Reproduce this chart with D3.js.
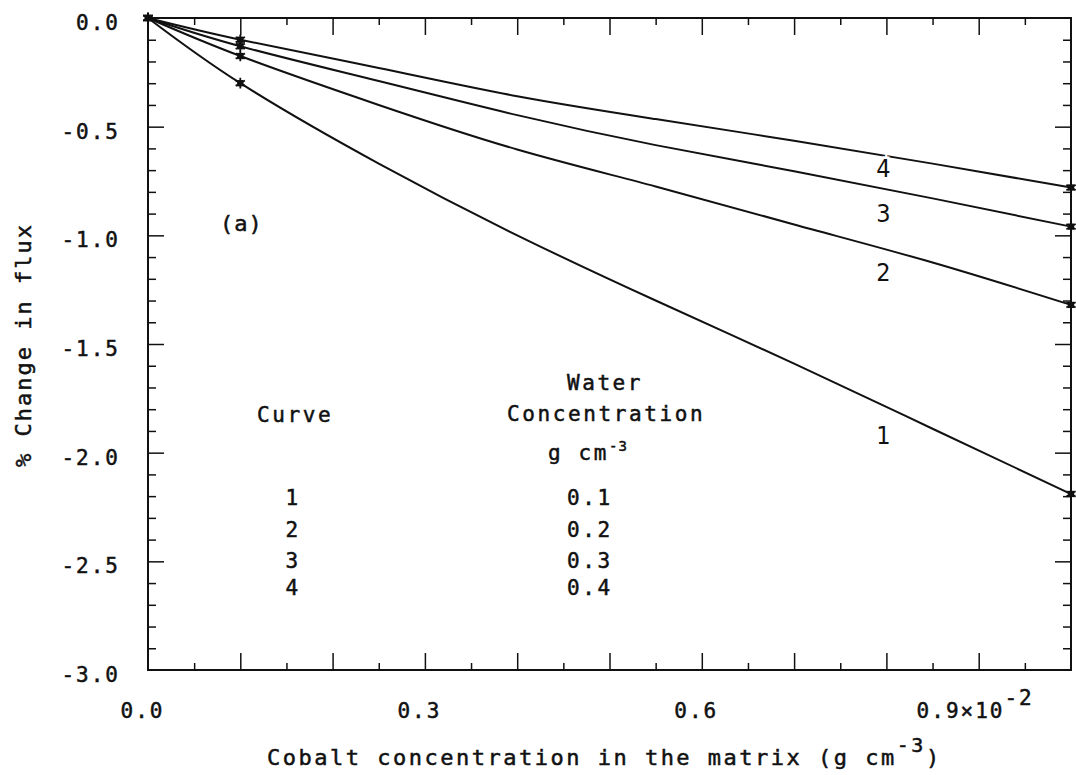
<!DOCTYPE html>
<html>
<head>
<meta charset="utf-8">
<script src="https://cdn.jsdelivr.net/npm/d3@7"></script>
<style>
  body { margin: 0; background: #fff; }
  svg { display: block; font-family: "DejaVu Sans Mono", "Liberation Mono", monospace; fill: #111; }
  svg text { stroke: #111; stroke-width: 0.5; }
  .tick line { stroke: #111; stroke-width: 1.5; }
</style>
</head>
<body>
<svg id="chart" width="1076" height="775"></svg>
<script>
// cobalt concentration (x 10^-2 g cm^-3) and % change in flux for each curve
const cobalt = [0, 0.1, 0.25, 0.4, 0.55, 0.7, 0.85, 1.0];
const curve1 = [0, -0.30, -0.67, -1.00, -1.30, -1.59, -1.89, -2.19];
const curve2 = [0, -0.175, -0.40, -0.605, -0.775, -0.95, -1.125, -1.32];
const curve3 = [0, -0.13, -0.29, -0.447, -0.585, -0.705, -0.83, -0.96];
const curve4 = [0, -0.10, -0.23, -0.36, -0.465, -0.565, -0.67, -0.78];
const markedCobalt = [0, 0.1, 1.0];
const curveNames = ["1", "2", "3", "4"];
const waterConc = ["0.1", "0.2", "0.3", "0.4"];
const xTickLabels = [0, 0.3, 0.6, 0.9];
const yTickLabels = [0, -0.5, -1, -1.5, -2, -2.5, -3];
const labelAt = 0.8;

const curves = [curve1, curve2, curve3, curve4];

const svg = d3.select('#chart');
const plotL = 148, plotR = 1071, plotT = 18, plotB = 670;

const x = d3.scaleLinear().domain([0, 1]).range([plotL, plotR]);
const y = d3.scaleLinear().domain([0, -3]).range([plotT, plotB]);

// inward ticks on all four sides
const xMinor = d3.range(1, 20).filter(i => i % 2).map(i => i * 0.05);
const xMajor = d3.range(1, 10).map(i => i * 0.1);
const yMinor = d3.range(1, 30).filter(i => i % 5).map(i => -i * 0.1);
const yMajor = d3.range(1, 6).map(i => -i * 0.5);

function ticks(axis, vals, size, transform) {
    const g = svg.append('g')
        .attr('transform', transform)
        .call(axis.tickValues(vals).tickSize(-size).tickFormat(''));
    g.select('.domain').remove();
}
ticks(d3.axisBottom(x), xMinor, 7, `translate(0,${plotB})`);
ticks(d3.axisBottom(x), xMajor, 17, `translate(0,${plotB})`);
ticks(d3.axisTop(x), xMinor, 7, `translate(0,${plotT})`);
ticks(d3.axisTop(x), xMajor, 17, `translate(0,${plotT})`);
ticks(d3.axisLeft(y), yMinor, 8, `translate(${plotL},0)`);
ticks(d3.axisLeft(y), yMajor, 16, `translate(${plotL},0)`);
ticks(d3.axisRight(y), yMinor, 8, `translate(${plotR},0)`);
ticks(d3.axisRight(y), yMajor, 16, `translate(${plotR},0)`);

// frame
svg.append('rect')
    .attr('x', plotL).attr('y', plotT)
    .attr('width', plotR - plotL).attr('height', plotB - plotT)
    .attr('fill', 'none').attr('stroke', '#111').attr('stroke-width', 2);

// tick labels
const yLab = svg.append('g')
    .attr('transform', `translate(${plotL},0)`)
    .call(d3.axisLeft(y).tickValues(yTickLabels).tickSize(0).tickPadding(28)
        .tickFormat(d => d.toFixed(1)));
yLab.select('.domain').remove();
yLab.attr('font-family', null);
yLab.selectAll('text')
    .attr('font-size', 21).attr('letter-spacing', 2)
    .attr('fill', '#111')
    .attr('dy', '0.55em');

const xLab = svg.append('g')
    .attr('transform', `translate(0,${plotB})`)
    .call(d3.axisBottom(x).tickValues(xTickLabels).tickSize(0).tickPadding(33)
        .tickFormat(d => d === 0.9 ? '0.9×10' : d.toFixed(1)));
xLab.select('.domain').remove();
xLab.attr('font-family', null);
xLab.selectAll('text')
    .attr('font-size', 21).attr('letter-spacing', 2)
    .attr('fill', '#111')
    .attr('dx', d => d === 0.9 ? -4 : -6);
xLab.selectAll('text').filter(d => d === 0.9)
    .append('tspan').attr('dy', -13).text('-2');

// curves
const line = d3.line()
    .x(d => x(d[0]))
    .y(d => y(d[1]))
    .curve(d3.curveNatural);

svg.append('g')
    .selectAll('path')
    .data(curves)
    .join('path')
    .attr('d', vals => line(cobalt.map((c, i) => [c, vals[i]])))
    .attr('fill', 'none')
    .attr('stroke', '#111')
    .attr('stroke-width', 2);

// point markers
const markerPts = curves.flatMap(vals =>
    markedCobalt.map(c => [c, vals[cobalt.indexOf(c)]]));
const markers = svg.append('g')
    .selectAll('g')
    .data(markerPts)
    .join('g')
    .attr('transform', d => `translate(${x(d[0])},${y(d[1])})`);
markers.append('path')
    .attr('d', d3.symbol(d3.symbolSquare, 40))
    .attr('fill', '#111');
markers.append('path')
    .attr('d', d3.symbol(d3.symbolAsterisk, 80))
    .attr('fill', 'none').attr('stroke', '#111').attr('stroke-width', 1.8);

// curve numbers near x = 0.8
const labelDy = [37, 31, 33, 21];
svg.append('g')
    .selectAll('text')
    .data(curves)
    .join('text')
    .attr('x', x(labelAt) - 3)
    .attr('y', (vals, i) => y(d3.scaleLinear().domain(cobalt).range(vals)(labelAt)) + labelDy[i])
    .attr('text-anchor', 'middle')
    .attr('font-size', 25)
    .attr('font-family', '"Liberation Sans Narrow", "DejaVu Sans Condensed", sans-serif')
    .attr('paint-order', 'stroke')
    .style('stroke', '#fff').style('stroke-width', 5)
    .text((vals, i) => curveNames[i]);

// panel tag
svg.append('text')
    .attr('x', 220).attr('y', 231)
    .attr('font-size', 22).attr('letter-spacing', 1)
    .text('(a)');

// legend table
const legend = svg.append('g').attr('font-size', 21).attr('letter-spacing', 2.6);
legend.append('text').attr('x', 605).attr('y', 390).attr('text-anchor', 'middle').text('Water');
legend.append('text').attr('x', 257).attr('y', 422).text('Curve');
legend.append('text').attr('x', 507).attr('y', 421).text('Concentration');
const unit = legend.append('text').attr('x', 548).attr('y', 460).text('g cm');
unit.append('tspan').attr('font-size', 14).attr('dy', -9).attr('letter-spacing', 1).text('-3');

const rowY = [505, 537, 568, 595];
legend.append('g')
    .selectAll('text')
    .data(curveNames)
    .join('text')
    .attr('x', 293).attr('y', (d, i) => rowY[i])
    .attr('text-anchor', 'middle')
    .text(d => d);
legend.append('g')
    .selectAll('text')
    .data(waterConc)
    .join('text')
    .attr('x', 567).attr('y', (d, i) => rowY[i])
    .text(d => d);

// axis titles
const xTitle = svg.append('text')
    .attr('x', 267).attr('y', 765)
    .attr('font-size', 22).attr('letter-spacing', 2.5)
    .text('Cobalt concentration in the matrix (g cm');
xTitle.append('tspan').attr('dy', -13).attr('font-size', 20).text('-3');
xTitle.append('tspan').attr('dy', 13).text(')');

svg.append('text')
    .attr('transform', 'translate(31,345) rotate(-90)')
    .attr('text-anchor', 'middle')
    .attr('font-size', 22).attr('letter-spacing', 2)
    .text('% Change in flux');
</script>
</body>
</html>
